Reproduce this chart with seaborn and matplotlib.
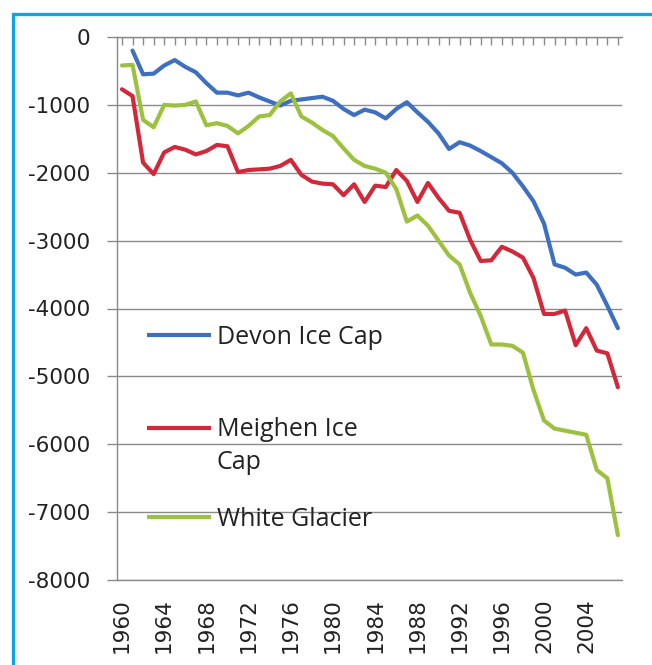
import numpy as np
import pandas as pd
import seaborn as sns
import matplotlib
matplotlib.use("Agg")
import matplotlib.pyplot as plt
from matplotlib.patches import Rectangle
from matplotlib.ticker import FixedLocator, FuncFormatter

# ---------------- data ----------------
years = list(range(1960, 2008))
devon_years = list(range(1961, 2008))
devon = [-200, -550, -540, -420, -340, -440, -520, -680, -820, -820,
         -860, -820, -890, -950, -1010, -940, -920, -900, -880, -940,
         -1060, -1150, -1070, -1110, -1200, -1060, -960, -1110, -1250, -1420,
         -1650, -1550, -1600, -1680, -1770, -1860, -2000, -2200, -2420, -2750,
         -3350, -3400, -3500, -3470, -3650, -3960, -4290]
meighen = [-770, -870, -1850, -2020, -1700, -1620, -1660, -1730, -1680, -1590,
           -1610, -1990, -1960, -1950, -1940, -1900, -1810, -2030, -2130, -2160,
           -2170, -2330, -2170, -2430, -2190, -2210, -1960, -2120, -2430, -2150,
           -2370, -2560, -2590, -2990, -3300, -3290, -3090, -3160, -3250, -3550,
           -4080, -4080, -4030, -4540, -4290, -4620, -4660, -5160]
white = [-420, -410, -1220, -1330, -1000, -1010, -1000, -950, -1300, -1270,
         -1310, -1420, -1310, -1170, -1150, -950, -830, -1170, -1260, -1370,
         -1460, -1640, -1810, -1900, -1940, -2000, -2240, -2720, -2630, -2780,
         -3000, -3220, -3350, -3770, -4110, -4530, -4530, -4550, -4650, -5200,
         -5650, -5770, -5800, -5830, -5860, -6380, -6500, -7340]
series_names = ["Devon Ice Cap", "Meighen Ice Cap", "White Glacier"]
legend_labels = ["Devon Ice Cap", "Meighen Ice\nCap", "White Glacier"]
colors = ["#3E70C2", "#D3283A", "#9CC13E"]
y_ticks = list(range(-8000, 1, 1000))
x_label_years = list(range(1960, 2005, 4))

df = pd.concat([
    pd.DataFrame({"year": devon_years, "value": devon, "series": series_names[0]}),
    pd.DataFrame({"year": years, "value": meighen, "series": series_names[1]}),
    pd.DataFrame({"year": years, "value": white, "series": series_names[2]}),
], ignore_index=True)

# ---------------- style ----------------
sns.set_style("white")
plt.rcParams["font.family"] = ["DejaVu Sans"]
plt.rcParams["axes.unicode_minus"] = False

W, H = 652, 665
fig = plt.figure(figsize=(W / 100, H / 100), dpi=100)
fig.patch.set_facecolor("white")
ax = fig.add_axes([117 / W, 1 - 580 / H, (622 - 117) / W, (580 - 37) / H])

sns.lineplot(data=df, x="year", y="value", hue="series", hue_order=series_names,
             palette=colors, linewidth=3, estimator=None, ax=ax, legend=True,
             solid_joinstyle="round", solid_capstyle="round")

handles, _ = ax.get_legend_handles_labels()
ax.get_legend().remove()

ax.set_xlim(1959.53, 2007.39)
ax.set_ylim(-8000, 0)
ax.set_xlabel("")
ax.set_ylabel("")

grid_col = "#8a8a8a"
ax.set_yticks(y_ticks)
ax.yaxis.set_major_formatter(FuncFormatter(lambda v, p: "%d" % int(round(v))))
ax.yaxis.grid(True, color=grid_col, linewidth=1)
ax.xaxis.grid(False)
ax.set_axisbelow(True)

ax.xaxis.set_major_locator(FixedLocator(years))
ax.xaxis.set_major_formatter(FuncFormatter(
    lambda v, p: str(int(round(v))) if int(round(v)) in x_label_years else ""))

ax.tick_params(axis="y", which="major", left=True, direction="out", length=7.2,
               width=1, color=grid_col, pad=12, labelsize=15.5, labelcolor="#222222")
ax.tick_params(axis="x", which="major", bottom=False, top=True, labelbottom=True,
               labeltop=False, direction="in", length=5.5, width=1, color=grid_col,
               pad=13, labelsize=15.5, labelrotation=90, labelcolor="#222222")

for s in ["top", "left", "bottom"]:
    ax.spines[s].set_color(grid_col)
    ax.spines[s].set_linewidth(1)
ax.spines["right"].set_visible(False)

# ---------------- legend ----------------
leg_x = 147 / W
leg_y = [337, 446, 519]
shifts = [0, 13.2, 0]
for h, lab, yp, sh in zip(handles, legend_labels, leg_y, shifts):
    h.set_linewidth(3)
    leg = fig.legend([h], [lab], loc="center left",
                     bbox_to_anchor=(leg_x, 1 - yp / H), bbox_transform=fig.transFigure,
                     frameon=False, borderpad=0, borderaxespad=0,
                     handlelength=2.55, handletextpad=0.25,
                     prop={"family": "Open Sans", "size": 18})
    for t in leg.get_texts():
        t.set_linespacing(1.4)
        t.set_color("#222222")
    for ln in leg.get_lines():
        ln.set_linewidth(3)
        ln.set_solid_capstyle("butt")
        if sh:
            ln.set_ydata(np.asarray(ln.get_ydata()) + sh)

# ---------------- frame border ----------------
border = Rectangle((13 / W, -0.05), 1.2, 1 - 13.5 / H + 0.05, transform=fig.transFigure,
                   fill=False, edgecolor="#0AA6E8", linewidth=2.4, zorder=10)
fig.add_artist(border)

fig.savefig("out.png", dpi=100)
